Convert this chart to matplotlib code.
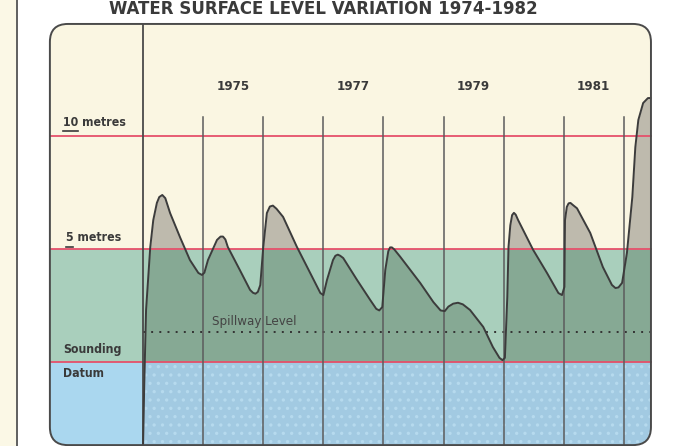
import numpy as np
import matplotlib
matplotlib.use("Agg")
import matplotlib.pyplot as plt
from matplotlib.patches import Rectangle, FancyBboxPatch
from matplotlib import font_manager

plt.rcParams['hatch.linewidth'] = 1.2

# water level (year, metres above sounding datum)
years = [1974.00, 1974.02, 1974.05, 1974.12, 1974.17, 1974.23, 1974.27, 1974.32, 1974.37,
         1974.45, 1974.62, 1974.78, 1974.92, 1974.98, 1975.02, 1975.08, 1975.23, 1975.29,
         1975.33, 1975.37, 1975.41, 1975.61, 1975.78, 1975.83, 1975.87, 1975.91, 1975.95,
         1976.00, 1976.06, 1976.11, 1976.16, 1976.22, 1976.33, 1976.56, 1976.78, 1976.95,
         1977.00, 1977.06, 1977.16, 1977.20, 1977.24, 1977.28, 1977.33, 1977.56, 1977.78,
         1977.88, 1977.93, 1977.98, 1978.03, 1978.08, 1978.11, 1978.14, 1978.18, 1978.28,
         1978.61, 1978.83, 1978.95, 1979.02, 1979.08, 1979.16, 1979.24, 1979.32, 1979.44,
         1979.66, 1979.82, 1979.93, 1979.98, 1980.02, 1980.06, 1980.08, 1980.11, 1980.14,
         1980.17, 1980.20, 1980.24, 1980.49, 1980.72, 1980.91, 1980.97, 1981.01, 1981.02,
         1981.05, 1981.08, 1981.11, 1981.15, 1981.22, 1981.44, 1981.65, 1981.80, 1981.86,
         1981.91, 1981.97, 1982.05, 1982.14, 1982.19, 1982.24, 1982.32, 1982.40, 1982.44]
level = [-3.70, -1.00, 2.30, 5.09, 6.28, 7.04, 7.30, 7.39, 7.25,
         6.59, 5.49, 4.51, 3.94, 3.85, 3.95, 4.51, 5.40, 5.55,
         5.55, 5.42, 5.09, 4.07, 3.19, 3.06, 3.02, 3.10, 3.40,
         5.09, 6.59, 6.88, 6.92, 6.78, 6.42, 5.09, 3.94, 3.05,
         2.96, 3.63, 4.51, 4.70, 4.75, 4.70, 4.60, 3.63, 2.74,
         2.35, 2.28, 2.43, 4.07, 4.90, 5.07, 5.07, 4.98, 4.65,
         3.50, 2.65, 2.28, 2.25, 2.45, 2.58, 2.62, 2.55, 2.30,
         1.55, 0.66, 0.18, 0.08, 0.18, 2.88, 5.09, 6.05, 6.50,
         6.60, 6.52, 6.28, 4.96, 3.94, 3.05, 2.96, 3.32, 6.28,
         6.86, 7.02, 7.04, 6.95, 6.80, 5.71, 4.20, 3.41, 3.27,
         3.30, 3.50, 4.82, 7.30, 9.51, 10.71, 11.46, 11.68, 11.68]

year_lines = [1975, 1976, 1977, 1978, 1979, 1980, 1981, 1982]
year_labels = ['1975', '1977', '1979', '1981']
ref_levels = [10, 5, 0]
spillway = 1.33

# condensed faces if installed, otherwise plain DejaVu a bit smaller
cpath = font_manager.findfont(font_manager.FontProperties(family='DejaVu Sans', stretch='condensed'))
bpath = font_manager.findfont(font_manager.FontProperties(family='DejaVu Sans', stretch='condensed',
                                                          weight='bold'))
if 'Condensed' in cpath:
    fp = dict(fontproperties=font_manager.FontProperties(fname=cpath))
    fb = dict(fontproperties=font_manager.FontProperties(fname=bpath))
    k = 1.0
else:
    fp = dict(family='DejaVu Sans')
    fb = dict(family='DejaVu Sans', fontweight='bold')
    k = 0.9

x0, x1 = 1971.62, 1982.85
y0, y1 = -3.72, 16.02
px_x = 675 / (x1 - x0)
px_y = 446 / (y1 - y0)

fig = plt.figure(figsize=(6.75, 4.46), dpi=100)
fig.patch.set_facecolor('white')
ax = fig.add_axes([0, 0, 1, 1])
ax.set_xlim(x0, x1)
ax.set_ylim(y0, y1)
ax.axis('off')

# left margin strip
ax.add_patch(Rectangle((x0, y0), 0.27, y1 - y0, facecolor='#FBF8E6', edgecolor='none', zorder=0))
ax.axvline(x0 + 0.275, color='#444444', lw=1.2, zorder=1)

# rounded panel
pl, pr = 1972.45, 1982.45
pt, pb = 14.96, -3.68
panel = FancyBboxPatch((pl, pb), pr - pl, pt - pb,
                       boxstyle='round,pad=0,rounding_size=0.3',
                       mutation_aspect=px_x / px_y,
                       facecolor='#FAF6E2', edgecolor='none', zorder=1)
ax.add_patch(panel)

green = Rectangle((pl, 0), pr - pl, 5, facecolor='#A9CFBC', edgecolor='none', zorder=2)
ax.add_patch(green)
green.set_clip_path(panel)
blue = Rectangle((pl, pb), 1974 - pl, -pb, facecolor='#AAD7EF', edgecolor='none', zorder=2)
ax.add_patch(blue)
blue.set_clip_path(panel)
blue2 = Rectangle((1974, pb), pr - 1974, -pb, facecolor='#A2CAE2', edgecolor='#B6DAEE',
                  hatch='..', lw=0, zorder=2)
ax.add_patch(blue2)
blue2.set_clip_path(panel)

# area under the curve
x = np.array(years)
y = np.array(level)
f1 = ax.fill_between(x, y, 0, color='#86A994', lw=0, zorder=3)
f1.set_clip_path(Rectangle((1974, 0), 9, 5, transform=ax.transData))
f2 = ax.fill_between(x, y, 0, color='#BEBAAD', lw=0, zorder=3)
f2.set_clip_path(Rectangle((1974, 5), 9, 10, transform=ax.transData))

# reference lines
for lv in ref_levels:
    ax.plot([pl, pr], [lv, lv], color='#E5506B', lw=1.3, zorder=4)
ax.plot([1974, pr], [spillway, spillway], color='#333333', lw=1.4,
        linestyle=(0, (1, 3.2)), zorder=4)

ax.plot([1974, 1974], [pb, pt], color='#4a4a4a', lw=1.3, zorder=5)
for yr in year_lines:
    ax.plot([yr, yr], [pb, 10.84], color='#5c5c5c', lw=1.1, zorder=5)

ax.plot(x, y, color='#3c3c3c', lw=1.4, zorder=6, solid_joinstyle='round')

panel_edge = FancyBboxPatch((pl, pb), pr - pl, pt - pb,
                            boxstyle='round,pad=0,rounding_size=0.3',
                            mutation_aspect=px_x / px_y,
                            facecolor='none', edgecolor='#4a4a4a', lw=1.4, zorder=7)
ax.add_patch(panel_edge)

# texts
tc = '#3a3a3a'
ax.text(1977.0, 15.38, 'WATER SURFACE LEVEL VARIATION 1974-1982', ha='center', va='baseline',
        fontsize=13.3 * k, color=tc, **fb)
for lab in year_labels:
    ax.text(int(lab) + 0.5, 12.21, lab, ha='center', va='center', fontsize=9.5 * k,
            color=tc, **fb)

lx = 1972.67
ax.text(lx, 10.58, '10 metres', ha='left', va='center', fontsize=8.8 * k, color=tc, **fb)
ax.plot([lx, lx + 0.24], [10.2, 10.2], color=tc, lw=1.2)
ax.text(lx + 0.05, 5.53, '5 metres', ha='left', va='center', fontsize=8.8 * k, color=tc, **fb)
ax.plot([lx + 0.05, lx + 0.16], [5.08, 5.08], color=tc, lw=1.2)
ax.text(lx, 0.53, 'Sounding', ha='left', va='center', fontsize=8.8 * k, color=tc, zorder=8, **fb)
ax.text(lx, -0.49, 'Datum', ha='left', va='center', fontsize=8.8 * k, color=tc, zorder=8, **fb)
ax.text(1975.15, 1.77, 'Spillway Level', ha='left', va='center', fontsize=9.5 * k,
        color='#444444', zorder=8, **fp)

fig.savefig('out.png', dpi=100)
